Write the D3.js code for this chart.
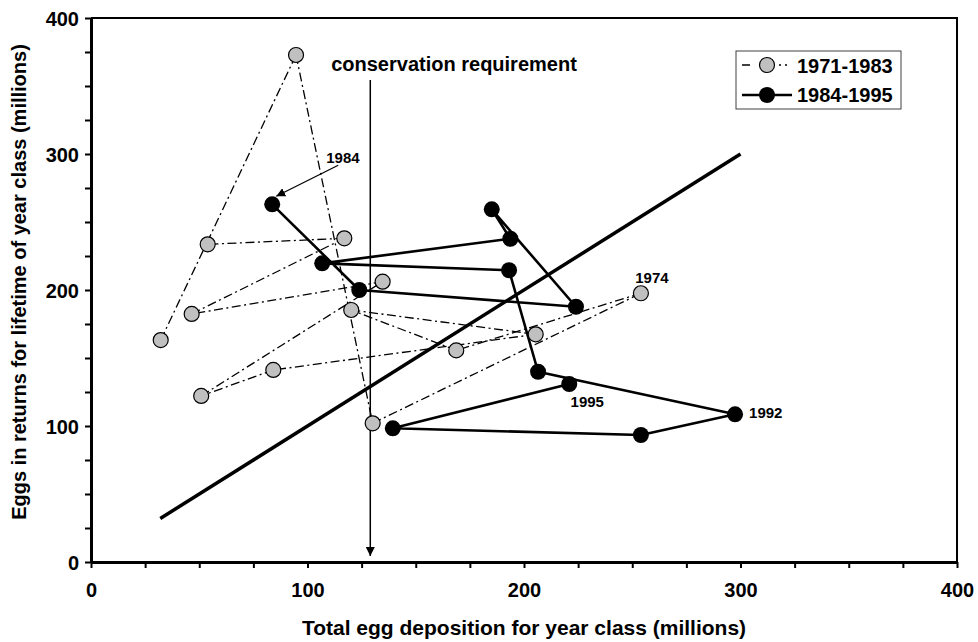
<!DOCTYPE html>
<html>
<head>
<meta charset="utf-8">
<script src="https://cdn.jsdelivr.net/npm/d3@7"></script>
<style>
  html, body { margin: 0; padding: 0; background: #fff; }
  svg { display: block; font-family: "Liberation Sans", Arial, sans-serif; font-weight: bold; }
</style>
</head>
<body>
<svg id="chart" width="978" height="642"></svg>
<script>
// Year classes 1971-1983 (grey, dash-dot path)
const years71 = [1971, 1972, 1973, 1974, 1975, 1976, 1977, 1978, 1979, 1980, 1981, 1982, 1983];
const eggs71 = [32.2, 94.7, 130.1, 254.0, 168.7, 120.2, 205.4, 84.2, 50.9, 134.7, 46.5, 117.0, 53.9];
const returns71 = [163.2, 372.8, 102.0, 197.6, 155.6, 185.3, 167.4, 141.2, 122.1, 206.1, 182.4, 238.0, 233.6];

// Year classes 1984-1995 (black, solid path)
const years84 = [1984, 1985, 1986, 1987, 1988, 1989, 1990, 1991, 1992, 1993, 1994, 1995];
const eggs84 = [83.7, 123.9, 224.0, 185.1, 193.7, 106.8, 193.1, 206.5, 297.5, 254.0, 139.4, 220.9];
const returns84 = [263.0, 200.0, 187.7, 259.3, 237.7, 219.6, 214.5, 139.9, 108.6, 93.4, 98.3, 130.9];

// Replacement line (returns = deposition) and conservation requirement
const replacementLine = [32, 300];
const conservationReq = 129;
const labelledYears = [1974, 1992, 1995];

const xTicks = [0, 100, 200, 300, 400];
const yTicks = [0, 100, 200, 300, 400];
const minorStep = 25;

const svg = d3.select("#chart");
const x = d3.scaleLinear().domain([0, 400]).range([91, 957]);
const y = d3.scaleLinear().domain([0, 400]).range([562, 18]);

const defs = svg.append("defs");
defs.append("marker").attr("id", "arrow")
  .attr("viewBox", "0 0 10 10").attr("refX", 10).attr("refY", 5)
  .attr("markerWidth", 9).attr("markerHeight", 9).attr("markerUnits", "userSpaceOnUse")
  .attr("orient", "auto")
  .append("path").attr("d", "M0,0 L10,5 L0,10 Z").attr("fill", "#000");

// frame (top and right edges)
svg.append("path")
  .attr("d", `M${x(0)},${y(400)} H${x(400)} V${y(0)}`)
  .attr("fill", "none").attr("stroke", "#000").attr("stroke-width", 2);

// axes
const minorX = d3.range(0, 401, minorStep);
const minorY = d3.range(0, 401, minorStep);
const xAxis = d3.axisBottom(x).tickValues(minorX).tickSize(6).tickSizeOuter(0)
  .tickFormat(d => xTicks.includes(d) ? d : "");
const yAxis = d3.axisLeft(y).tickValues(minorY).tickSize(6).tickSizeOuter(0)
  .tickFormat(d => yTicks.includes(d) ? d : "");

const gx = svg.append("g").attr("transform", `translate(0,${y(0)})`).call(xAxis);
gx.select(".domain").attr("stroke-width", 3);
gx.selectAll(".tick line").attr("stroke-width", 2);
gx.selectAll(".tick text").attr("font-size", 20).attr("font-family", "Liberation Sans, Arial, sans-serif")
  .attr("font-weight", "bold").attr("dy", 0).attr("y", 35);

const gy = svg.append("g").attr("transform", `translate(${x(0)},0)`).call(yAxis);
gy.select(".domain").attr("stroke-width", 3);
gy.selectAll(".tick line").attr("stroke-width", 2);
gy.selectAll(".tick text").attr("font-size", 20).attr("font-family", "Liberation Sans, Arial, sans-serif")
  .attr("font-weight", "bold").attr("x", -12).attr("dy", "0.35em");

// axis titles
svg.append("text").attr("x", (x(0) + x(400)) / 2).attr("y", 635)
  .attr("text-anchor", "middle").attr("font-size", 21)
  .text("Total egg deposition for year class (millions)");
svg.append("text").attr("transform", `translate(26,${(y(0) + y(400)) / 2 - 8}) rotate(-90)`)
  .attr("text-anchor", "middle").attr("font-size", 20)
  .text("Eggs in returns for lifetime of year class (millions)");

// replacement line
svg.append("line")
  .attr("x1", x(replacementLine[0])).attr("y1", y(replacementLine[0]))
  .attr("x2", x(replacementLine[1])).attr("y2", y(replacementLine[1]))
  .attr("stroke", "#000").attr("stroke-width", 3.5);

// conservation requirement arrow
svg.append("line")
  .attr("x1", x(conservationReq)).attr("y1", 80)
  .attr("x2", x(conservationReq)).attr("y2", y(0) - 6)
  .attr("stroke", "#000").attr("stroke-width", 1.5).attr("marker-end", "url(#arrow)");
svg.append("text").attr("x", 454).attr("y", 71).attr("text-anchor", "middle")
  .attr("font-size", 20).text("conservation requirement");

// series paths
const pts71 = years71.map((yr, i) => ({ year: yr, x: eggs71[i], y: returns71[i] }));
const pts84 = years84.map((yr, i) => ({ year: yr, x: eggs84[i], y: returns84[i] }));

const dashPattern = "9,3.5,2,3.5";
// each consecutive pair drawn as its own segment so the dash pattern restarts per segment
const g71 = svg.append("g");
d3.pairs(pts71).forEach(([a, b]) => {
  g71.append("line")
    .attr("x1", x(a.x)).attr("y1", y(a.y)).attr("x2", x(b.x)).attr("y2", y(b.y))
    .attr("stroke", "#000").attr("stroke-width", 1.3).attr("stroke-dasharray", dashPattern);
});

const line = d3.line().x(d => x(d.x)).y(d => y(d.y));
svg.append("path").datum(pts84).attr("d", line)
  .attr("fill", "none").attr("stroke", "#000").attr("stroke-width", 2.6).attr("stroke-linejoin", "round");

svg.append("g").selectAll("circle").data(pts71).join("circle")
  .attr("cx", d => x(d.x)).attr("cy", d => y(d.y)).attr("r", 7.5)
  .attr("fill", "#c0c0c0").attr("stroke", "#000").attr("stroke-width", 1.2);

svg.append("g").selectAll("circle").data(pts84).join("circle")
  .attr("cx", d => x(d.x)).attr("cy", d => y(d.y)).attr("r", 8)
  .attr("fill", "#000");

// year labels
const allPts = pts71.concat(pts84);
const labelOffsets = { 1974: [11, -10, "middle"], 1992: [14, 4, "start"], 1995: [18, 23, "middle"] };
labelledYears.forEach(yr => {
  const p = allPts.find(d => d.year === yr);
  const [dx, dy, anchor] = labelOffsets[yr];
  svg.append("text").attr("x", x(p.x) + dx).attr("y", y(p.y) + dy)
    .attr("text-anchor", anchor).attr("font-size", 15).text(yr);
});

// 1984 callout
const p84 = pts84[0];
svg.append("text").attr("x", x(p84.x) + 54).attr("y", y(p84.y) - 41)
  .attr("font-size", 15).text(p84.year);
svg.append("line")
  .attr("x1", x(p84.x) + 66).attr("y1", y(p84.y) - 39)
  .attr("x2", x(p84.x) + 4).attr("y2", y(p84.y) - 8)
  .attr("stroke", "#000").attr("stroke-width", 1.2).attr("marker-end", "url(#arrow)");

// legend
const lg = svg.append("g");
lg.append("rect").attr("x", 736).attr("y", 51).attr("width", 165).attr("height", 58)
  .attr("fill", "#fff").attr("stroke", "#404040").attr("stroke-width", 1);
lg.append("line").attr("x1", 742).attr("y1", 65).attr("x2", 792).attr("y2", 65)
  .attr("stroke", "#000").attr("stroke-width", 1.3).attr("stroke-dasharray", "8,29,2,4,2,100");
lg.append("circle").attr("cx", 767).attr("cy", 65).attr("r", 7.5)
  .attr("fill", "#c0c0c0").attr("stroke", "#000").attr("stroke-width", 1.2);
lg.append("text").attr("x", 797).attr("y", 73).attr("font-size", 20).text("1971-1983");
lg.append("line").attr("x1", 742).attr("y1", 95).attr("x2", 792).attr("y2", 95)
  .attr("stroke", "#000").attr("stroke-width", 2.6);
lg.append("circle").attr("cx", 767).attr("cy", 95).attr("r", 8).attr("fill", "#000");
lg.append("text").attr("x", 797).attr("y", 102).attr("font-size", 20).text("1984-1995");
</script>
</body>
</html>
